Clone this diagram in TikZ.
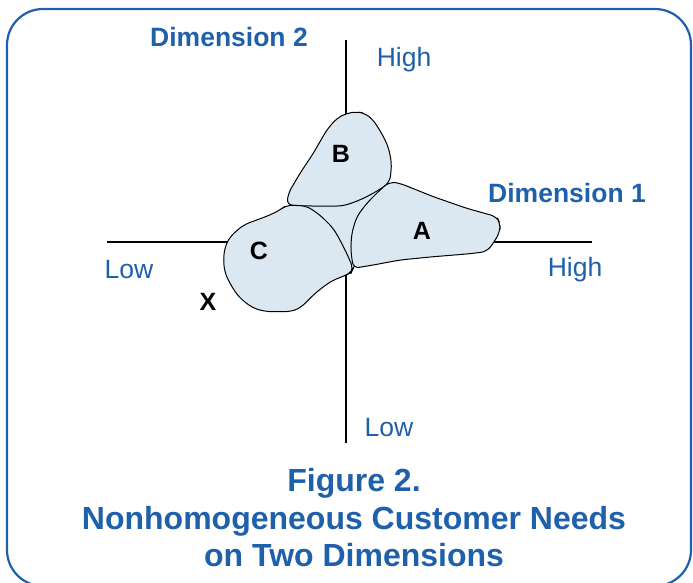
\documentclass[tikz,border=0pt]{standalone}
\usepackage{fontspec}
\setmainfont{Liberation Sans}
\definecolor{hdblue}{RGB}{31,96,170}
\definecolor{blobfill}{RGB}{219,231,241}
\begin{document}
\begin{tikzpicture}[x=1pt,y=-1pt,
  axis/.style={line width=1.8pt,black},
  blob/.style={fill=blobfill,draw=black,line width=1pt,line join=round},
  axlab/.style={text=hdblue,font=\fontsize{26.5}{30}\selectfont,inner sep=0pt},
  dimlab/.style={text=hdblue,font=\fontsize{26.5}{30}\selectfont\bfseries,inner sep=0pt},
  seglab/.style={text=black,font=\fontsize{25}{29}\selectfont\bfseries,inner sep=0pt},
  titlelab/.style={text=hdblue,font=\fontsize{32}{37.5}\selectfont\bfseries,align=center,inner sep=0pt}]
\useasboundingbox (0,0) rectangle (693,582);
\draw[hdblue,line width=2.2pt,rounded corners=36pt] (7,9) rectangle (691,586);
% axes
\coordinate (vtop) at (346,40);
\coordinate (vbot) at (346,443);
\coordinate (hl) at (107,242);
\coordinate (hr) at (592,242);
\draw[axis] (vtop) -- (vbot);
\draw[axis] (hl) -- (hr);
% middle fill
\fill[blobfill] (306.7,206) -- (343.3,206) -- (381.7,188.3) -- (366.7,203.3) -- (356.7,216.7) -- (351.7,233.3) -- (350.7,250) -- (353.3,268.3) -- (346.7,253.3) -- (340,240) -- (333.3,228.3) -- (320,215) -- cycle;
% B
\draw[blob,rounded corners=6pt] (286.7,205) -- (288.3,193.3) -- (300,173.3) -- (313.3,153.3) -- (326.7,130) -- (336.7,118.3) -- (346.7,113.3) -- (356.7,111.7) -- (365,113.3) -- (373.3,120) -- (381.7,133.3) -- (388.3,146.7) -- (391.7,163.3) -- (390,181.7) -- (381.7,188.3) -- (370,195) -- (360,200) -- (343.3,206) -- (306.7,206) -- cycle;
% A
\draw[blob,rounded corners=6pt] (390,181.7) -- (400,183.3) -- (433.3,196.7) -- (466.7,208.3) -- (496.7,216.7) -- (500,223.3) -- (500,231.7) -- (493.3,243.3) -- (486.7,251.7) -- (466.7,254) -- (433.3,256.7) -- (400,260) -- (373.3,265) -- (353.3,268.3) -- (350.7,250) -- (351.7,233.3) -- (356.7,216.7) -- (366.7,203.3) -- (381.7,188.3) -- cycle;
% C
\draw[blob,rounded corners=6pt] (286.7,205) -- (306.7,206) -- (320,215) -- (333.3,228.3) -- (340,240) -- (346.7,253.3) -- (353.3,268.3) -- (351.7,271.7) -- (346.7,275) -- (333.3,280) -- (323.3,286.7) -- (313.3,295) -- (300,308.3) -- (290,311.7) -- (266.7,311.7) -- (253.3,308.3) -- (240,298.3) -- (231.7,286.7) -- (225,273.3) -- (223.3,260) -- (225,246.7) -- (230,236.7) -- (243.3,225) -- (270,215) -- (280,210) -- cycle;
% labels
\node[seglab] (lb) at (341,154) {B};
\node[seglab] (la) at (422,231) {A};
\node[seglab] (lc) at (259,251) {C};
\node[seglab] (lx) at (208,302) {X};
\node[dimlab] (d2) at (229,37) {Dimension 2};
\node[dimlab] (d1) at (567,193) {Dimension 1};
\node[axlab] (hightop) at (404,60) {High};
\node[axlab] (lowleft) at (129,270) {Low};
\node[axlab] (highright) at (575,270) {High};
\node[axlab] (lowbot) at (389,428) {Low};
\node[titlelab] (title) at (354,518) {Figure 2.\\Nonhomogeneous Customer Needs\\on Two Dimensions};
\end{tikzpicture}
\end{document}
